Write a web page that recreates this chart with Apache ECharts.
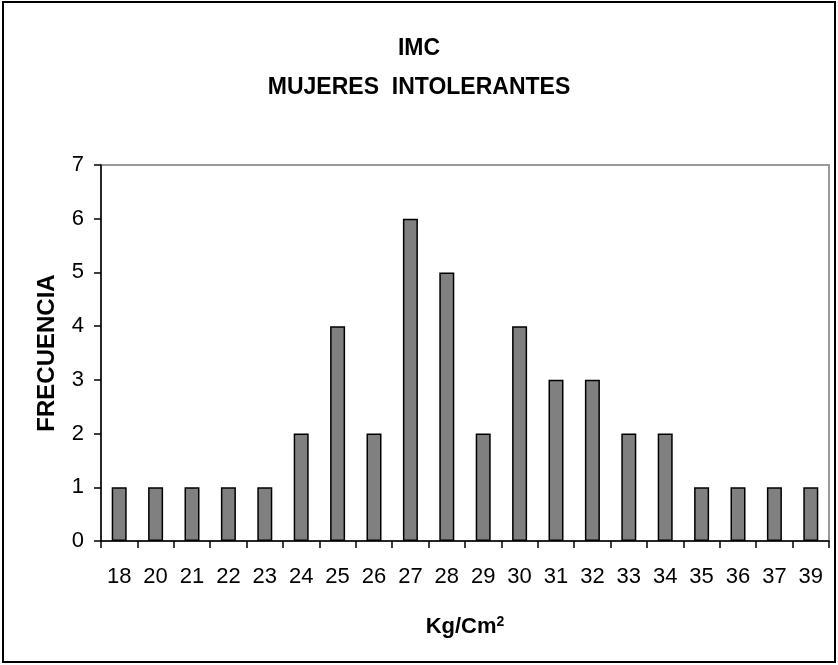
<!DOCTYPE html>
<html>
<head>
<meta charset="utf-8">
<script src="https://cdn.jsdelivr.net/npm/echarts@6/dist/echarts.min.js"></script>
<style>
  html, body { margin: 0; padding: 0; background: #fff; }
  #chart { width: 838px; height: 665px; }
</style>
</head>
<body>
<div id="chart"></div>
<script>
// IMC - mujeres intolerantes
var categorias = ['18', '20', '21', '22', '23', '24', '25', '26', '27', '28', '29', '30', '31', '32', '33', '34', '35', '36', '37', '39']
var frecuencia = [1, 1, 1, 1, 1, 2, 4, 2, 6, 5, 2, 4, 3, 3, 2, 2, 1, 1, 1, 1]
var ticksY = [0, 1, 2, 3, 4, 5, 6, 7]

var chart = echarts.init(document.getElementById('chart'))
chart.setOption({
  animation: false,
  textStyle: { fontFamily: 'Liberation Sans, Arial, sans-serif' },
  title: {
    text: 'IMC\nMUJERES  INTOLERANTES',
    left: 'center',
    top: 24,
    textStyle: {
      fontFamily: 'Liberation Sans, Arial, sans-serif',
      fontSize: 23,
      fontWeight: 'bold',
      color: '#000',
      lineHeight: 39
    }
  },
  graphic: [{
    type: 'rect',
    shape: { x: 3, y: 2, width: 832, height: 660 },
    style: { fill: 'none', stroke: '#000', lineWidth: 2 },
    silent: true
  }],
  grid: {
    left: 101,
    right: 9,
    top: 165,
    bottom: 124,
    show: true,
    borderColor: '#999',
    borderWidth: 2
  },
  xAxis: {
    type: 'category',
    data: categorias,
    name: 'Kg/Cm{sup|2}',
    nameLocation: 'middle',
    nameGap: 74,
    nameTextStyle: {
      fontSize: 22,
      fontWeight: 'bold',
      color: '#000',
      rich: {
        sup: { fontSize: 14, fontWeight: 'bold', color: '#000', verticalAlign: 'top', padding: [0, 0, 10, 0] }
      }
    },
    axisLine: { lineStyle: { color: '#000', width: 1.5 } },
    axisTick: { show: true, length: 7, alignWithLabel: false, lineStyle: { color: '#000', width: 1.5 } },
    axisLabel: { color: '#000', fontSize: 22, margin: 25 },
    splitLine: { show: false }
  },
  yAxis: {
    type: 'value',
    min: ticksY[0],
    max: ticksY[ticksY.length - 1],
    interval: 1,
    name: 'FRECUENCIA',
    nameLocation: 'middle',
    nameGap: 42,
    nameTextStyle: { fontSize: 24, fontWeight: 'bold', color: '#000' },
    axisLine: { show: true, lineStyle: { color: '#000', width: 1.5 } },
    axisTick: { show: true, length: 7, lineStyle: { color: '#000', width: 1.5 } },
    axisLabel: { color: '#000', fontSize: 22, margin: 17 },
    splitLine: { show: false }
  },
  series: [{
    type: 'bar',
    data: frecuencia,
    barWidth: 15,
    itemStyle: {
      color: '#808080',
      borderColor: '#000',
      borderWidth: 1.5
    }
  }]
})
</script>
</body>
</html>
